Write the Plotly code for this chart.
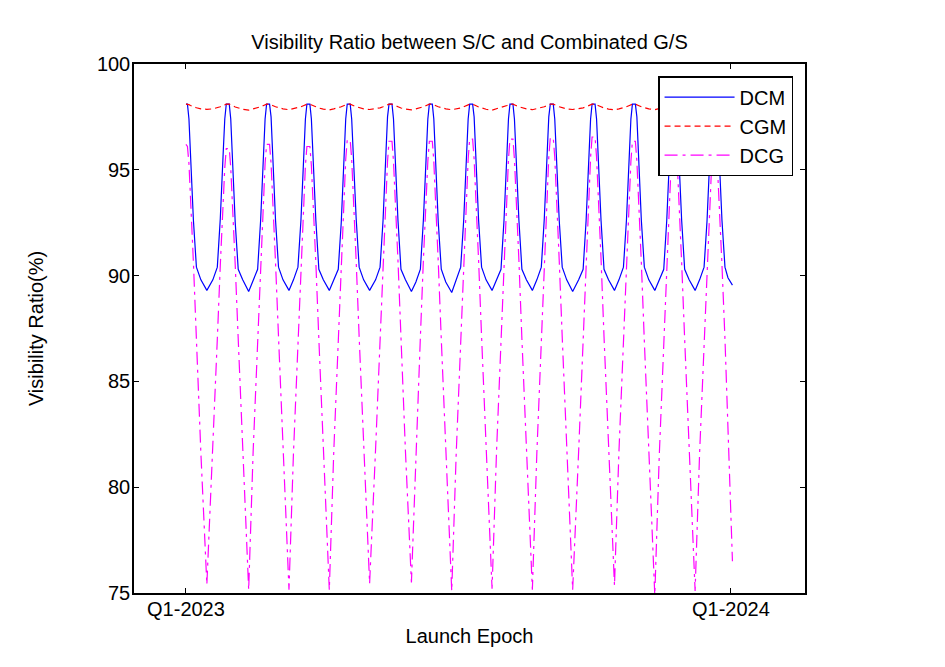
import plotly.graph_objects as go

# sample days (0 = Q1-2023, 365 = Q1-2024), key points of each ~27 day cycle
days = [
    0, 1, 2, 3, 5, 7, 10, 14,
    18, 21, 23, 25, 26, 27, 29, 30, 31, 33, 35, 38, 42,
    45, 48, 50, 52, 53, 54, 56, 57, 58, 60, 62, 65, 69,
    72, 75, 77, 79, 80, 81, 83, 84, 85, 87, 89, 92, 96,
    99, 102, 104, 106, 107, 108, 110, 111, 112, 114, 116, 119, 123,
    127, 130, 132, 134, 135, 136, 138, 139, 140, 142, 144, 147, 151,
    154, 157, 159, 161, 162, 163, 165, 166, 167, 169, 171, 174, 178,
    181, 184, 186, 188, 189, 190, 192, 193, 194, 196, 198, 201, 205,
    208, 211, 213, 215, 216, 217, 219, 220, 221, 223, 225, 228, 232,
    235, 238, 240, 242, 243, 244, 246, 247, 248, 250, 252, 255, 259,
    263, 266, 268, 270, 271, 272, 274, 275, 276, 278, 280, 283, 287,
    290, 293, 295, 297, 298, 299, 301, 302, 303, 305, 307, 310, 314,
    317, 320, 322, 324, 325, 326, 328, 329, 330, 332, 334, 337, 341,
    344, 347, 349, 351, 352, 353, 355, 356, 357, 359, 361, 363, 366,
]

dcm = [
    98.1, 98.1, 97.4, 95.8, 92.6, 90.4, 89.8, 89.3,
    89.8, 90.4, 92.7, 95.9, 97.4, 98.1, 98.1, 97.4, 95.8, 92.5, 90.3, 89.8, 89.25,
    89.8, 90.3, 92.6, 95.8, 97.4, 98.1, 98.1, 97.5, 95.9, 92.6, 90.4, 89.8, 89.3,
    89.8, 90.4, 92.6, 95.8, 97.4, 98.1, 98.1, 97.4, 95.8, 92.6, 90.3, 89.8, 89.3,
    89.8, 90.3, 92.5, 95.8, 97.4, 98.1, 98.1, 97.4, 95.8, 92.7, 90.4, 89.8, 89.3,
    89.8, 90.4, 92.6, 95.9, 97.5, 98.1, 98.1, 97.4, 95.8, 92.6, 90.3, 89.8, 89.25,
    89.7, 90.3, 92.6, 95.8, 97.4, 98.1, 98.1, 97.4, 95.8, 92.5, 90.3, 89.7, 89.2,
    89.8, 90.4, 92.6, 95.8, 97.4, 98.1, 98.1, 97.5, 95.9, 92.6, 90.4, 89.8, 89.3,
    89.8, 90.3, 92.6, 95.8, 97.4, 98.1, 98.1, 97.4, 95.8, 92.6, 90.3, 89.8, 89.3,
    89.8, 90.4, 92.7, 95.9, 97.5, 98.1, 98.1, 97.4, 95.8, 92.6, 90.4, 89.8, 89.25,
    89.8, 90.3, 92.6, 95.8, 97.4, 98.1, 98.1, 97.4, 95.8, 92.6, 90.3, 89.8, 89.3,
    89.8, 90.4, 92.6, 95.8, 97.4, 98.1, 98.1, 97.5, 95.9, 92.6, 90.4, 89.8, 89.3,
    89.8, 90.3, 92.6, 95.8, 97.4, 98.1, 98.1, 97.4, 95.8, 92.6, 90.3, 89.8, 89.3,
    89.8, 90.4, 92.6, 95.8, 97.4, 98.1, 98.1, 97.4, 95.8, 92.6, 90.4, 89.9, 89.55,
]

cgm = [
    98.1, 98.1, 98.08, 98.04, 97.98, 97.93, 97.88, 97.86,
    97.88, 97.93, 97.98, 98.04, 98.08, 98.1, 98.1, 98.08, 98.04, 97.97, 97.92, 97.86, 97.82,
    97.87, 97.93, 97.98, 98.04, 98.08, 98.1, 98.1, 98.08, 98.04, 97.98, 97.93, 97.88, 97.84,
    97.88, 97.93, 97.98, 98.04, 98.08, 98.1, 98.1, 98.08, 98.04, 97.98, 97.92, 97.87, 97.83,
    97.88, 97.93, 97.98, 98.04, 98.08, 98.1, 98.1, 98.08, 98.04, 97.98, 97.93, 97.88, 97.85,
    97.88, 97.93, 97.98, 98.04, 98.08, 98.1, 98.1, 98.08, 98.04, 97.98, 97.92, 97.87, 97.83,
    97.88, 97.93, 97.98, 98.04, 98.08, 98.1, 98.1, 98.08, 98.04, 97.98, 97.93, 97.88, 97.84,
    97.87, 97.92, 97.98, 98.04, 98.08, 98.1, 98.1, 98.08, 98.04, 97.97, 97.92, 97.86, 97.82,
    97.88, 97.93, 97.98, 98.04, 98.08, 98.1, 98.1, 98.08, 98.04, 97.98, 97.93, 97.88, 97.84,
    97.88, 97.93, 97.98, 98.04, 98.08, 98.1, 98.1, 98.08, 98.04, 97.98, 97.93, 97.88, 97.85,
    97.88, 97.93, 97.98, 98.04, 98.08, 98.1, 98.1, 98.08, 98.04, 97.98, 97.92, 97.87, 97.83,
    97.88, 97.93, 97.98, 98.04, 98.08, 98.1, 98.1, 98.08, 98.04, 97.98, 97.93, 97.88, 97.84,
    97.88, 97.93, 97.98, 98.04, 98.08, 98.1, 98.1, 98.08, 98.04, 97.98, 97.93, 97.88, 97.85,
    97.88, 97.93, 97.98, 98.04, 98.08, 98.1, 98.1, 98.08, 98.04, 97.98, 97.93, 97.89, 97.9,
]

dcg = [
    96.2, 96.1, 95.3, 93.9, 90.6, 87.0, 81.6, 75.4,
    81.6, 87.0, 90.5, 93.7, 95.1, 96.0, 96.0, 95.1, 93.7, 90.5, 87.0, 81.6, 75.15,
    81.7, 87.1, 90.6, 93.9, 95.3, 96.2, 96.2, 95.3, 93.9, 90.6, 87.1, 81.7, 75.15,
    81.6, 87.0, 90.6, 93.8, 95.2, 96.1, 96.1, 95.2, 93.8, 90.6, 87.0, 81.6, 75.15,
    81.7, 87.1, 90.7, 94.1, 95.5, 96.4, 96.4, 95.5, 94.1, 90.7, 87.1, 81.8, 75.45,
    81.8, 87.2, 90.7, 94.0, 95.4, 96.35, 96.35, 95.4, 94.0, 90.7, 87.1, 81.7, 75.5,
    81.8, 87.1, 90.7, 94.0, 95.4, 96.35, 96.35, 95.4, 94.0, 90.6, 87.0, 81.6, 75.1,
    81.6, 87.1, 90.7, 94.1, 95.5, 96.45, 96.45, 95.5, 94.1, 90.7, 87.1, 81.7, 75.2,
    81.7, 87.1, 90.7, 94.1, 95.5, 96.45, 96.45, 95.5, 94.1, 90.7, 87.0, 81.6, 75.15,
    81.6, 87.1, 90.8, 94.2, 95.6, 96.5, 96.5, 95.6, 94.2, 90.7, 87.1, 81.6, 75.15,
    81.7, 87.2, 90.8, 94.2, 95.6, 96.55, 96.55, 95.6, 94.2, 90.8, 87.1, 81.7, 75.35,
    81.7, 87.1, 90.7, 94.0, 95.4, 96.35, 96.35, 95.4, 94.0, 90.6, 86.9, 81.4, 74.9,
    81.5, 87.0, 90.6, 94.0, 95.4, 96.3, 96.3, 95.4, 94.0, 90.6, 87.0, 81.6, 75.1,
    81.6, 87.0, 90.5, 93.7, 95.1, 96.0, 96.0, 95.1, 93.7, 90.5, 87.0, 82.5, 76.5,
]

tick_days = [0, 365]
tick_labels = ["Q1-2023", "Q1-2024"]

font = "Arial, Liberation Sans, sans-serif"

fig = go.Figure()
fig.add_trace(go.Scatter(x=days, y=dcm, name="DCM", mode="lines",
                         line=dict(color="#0000FF", width=1.2)))
fig.add_trace(go.Scatter(x=days, y=cgm, name="CGM", mode="lines",
                         line=dict(color="#FF0000", width=1.2, dash="6px,4px")))
fig.add_trace(go.Scatter(x=days, y=dcg, name="DCG", mode="lines",
                         line=dict(color="#FF00FF", width=1.2, dash="13px,5px,3px,5px")))

axis_style = dict(
    showline=True, linecolor="black", linewidth=1.5, mirror="ticks",
    ticks="inside", ticklen=5, tickwidth=1, tickcolor="black",
    showgrid=False, zeroline=False,
    tickfont=dict(size=20, color="black", family=font),
)

fig.update_xaxes(range=[-34.8, 414.6], tickvals=tick_days, ticktext=tick_labels,
                 ticklabelstandoff=-3,
                 title=dict(text="Launch Epoch", font=dict(size=20, color="black", family=font),
                            standoff=10),
                 **axis_style)
fig.update_yaxes(range=[75, 100], tick0=75, dtick=5,
                 ticklabelstandoff=-2,
                 title=dict(text="Visibility Ratio(%)", font=dict(size=20, color="black", family=font),
                            standoff=48),
                 **axis_style)

# page body has an 8px margin, so the figure is a little smaller than the window
fig.update_layout(
    width=937, height=659,
    margin=dict(l=126, r=140, t=56, b=74),
    paper_bgcolor="white", plot_bgcolor="white",
    font=dict(family=font, size=20, color="black"),
    title=dict(text="Visibility Ratio between S/C and Combinated G/S",
               x=0.5, xref="paper", xanchor="center",
               y=1 - 34 / 659, yref="container", yanchor="middle",
               font=dict(size=20, color="black", family=font)),
    legend=dict(x=0.781, y=0.977, xanchor="left", yanchor="top",
                bgcolor="white", bordercolor="black", borderwidth=1.5,
                font=dict(size=20, color="black", family=font),
                itemwidth=70, tracegroupgap=0),
    showlegend=True,
)

fig.write_html("out.html")
